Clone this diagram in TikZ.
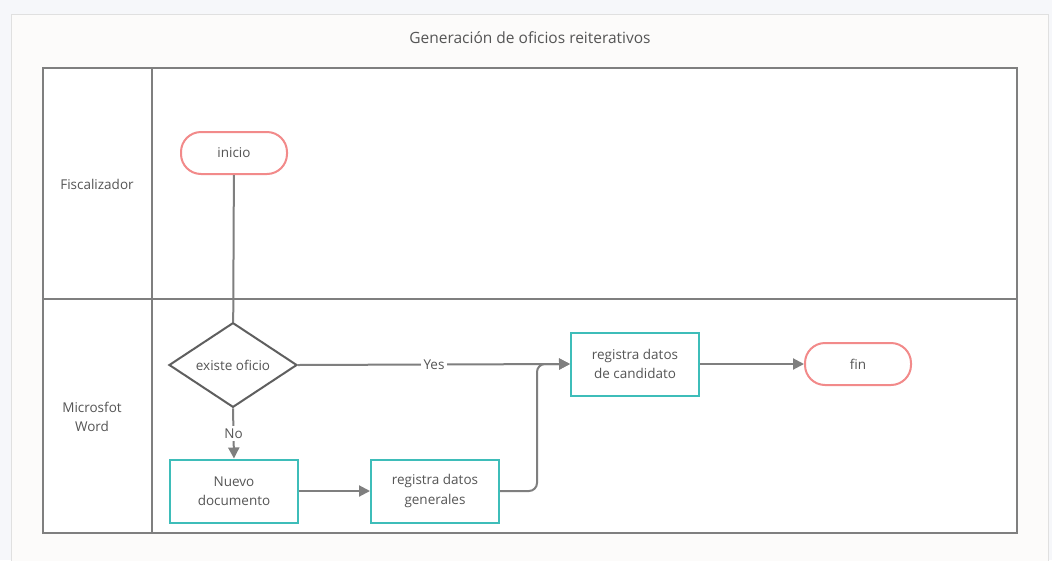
\documentclass[tikz,border=0pt]{standalone}
\usepackage{fontspec}
\setmainfont{Open Sans}
\usetikzlibrary{shapes.geometric,arrows.meta}

\definecolor{fondo}{HTML}{F6F7FA}
\definecolor{panel}{HTML}{FCFBFA}
\definecolor{marco}{HTML}{7F7F7F}
\definecolor{texto}{HTML}{555555}
\definecolor{turquesa}{HTML}{3EBDB9}
\definecolor{rojo}{HTML}{F28A8A}

\tikzset{
  terminal/.style = {draw=rojo, line width=2pt, fill=white, rounded corners=20pt,
                     minimum width=106pt, minimum height=42pt, text=texto},
  proceso/.style  = {draw=turquesa, line width=2pt, fill=white, align=center,
                     minimum width=128pt, minimum height=63pt, text=texto},
  decision/.style = {diamond, draw=marco!75!black, line width=2pt, fill=white,
                     minimum width=128pt, minimum height=84pt, inner sep=0pt, text=texto},
  flujo/.style    = {draw=marco, line width=2pt,
                     -{Triangle[length=11pt,width=11pt]}},
  etiqueta/.style = {fill=white, text=texto, inner sep=3pt},
  carril/.style   = {text=texto, align=center}
}

\begin{document}
\begin{tikzpicture}[x=1pt,y=-1pt,font=\fontsize{13.5}{19.5}\selectfont]
% fondo y panel
\fill[fondo] (0,0) rectangle (1052,560);
\useasboundingbox (0,0) rectangle (1052,560);
\draw[draw=black!12, fill=panel, line width=1pt] (11,14) rectangle (1048,566);
\node[text=texto, font=\fontsize{15.5}{19}\selectfont] (titulo) at (530,38)
  {Generación de oficios reiterativos};

% la piscina
\draw[marco, line width=2pt, fill=white] (43,68) rectangle (1017,533);
\draw[marco, line width=2pt] (152,68) -- (152,533);
\draw[marco, line width=2pt] (43,299) -- (1017,299);
\node[carril] (fisc) at (97,184) {Fiscalizador};
\node[carril] (word) at (92,417) {Microsfot\\Word};

% nodos
\node[terminal] (inicio) at (234,153) {inicio};
\node[decision] (existe) at (233,365) {existe oficio};
\node[proceso] (nuevo) at (234,491) {Nuevo\\documento};
\node[proceso] (generales) at (435,491) {registra datos\\generales};
\node[proceso] (candidato) at (635,364) {registra datos\\de candidato};
\node[terminal] (fin) at (858,364) {fin};

% conectores
\draw[marco, line width=2pt] (inicio) -- (existe);
\draw[flujo] (existe.east) -- node[etiqueta] (si) {Yes} (candidato.west);
\draw[flujo] (existe.south) -- node[etiqueta] (no) {No} (nuevo.north);
\draw[flujo] (nuevo) -- (generales);
\draw[flujo, rounded corners=8pt] (generales.east) -- ([xshift=37pt]generales.east)
  |- (candidato.west);
\draw[flujo] (candidato) -- (fin);
\end{tikzpicture}
\end{document}
